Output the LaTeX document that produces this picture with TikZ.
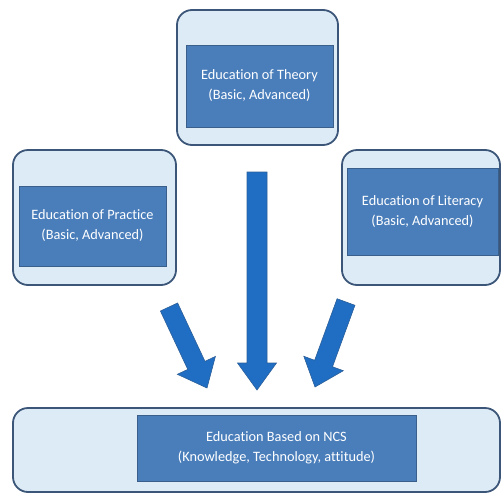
\documentclass[tikz,border=0pt]{standalone}
\usepackage{fontspec}
\setmainfont{Carlito}[Ligatures=NoCommon]
\usetikzlibrary{calc}
\definecolor{outerfill}{HTML}{DDEBF6}
\definecolor{outerdraw}{HTML}{3B5678}
\definecolor{innerfill}{HTML}{4A7EBB}
\definecolor{innerdraw}{HTML}{3A5F8B}
\definecolor{arrowfill}{HTML}{1F6EC4}
\definecolor{arrowdraw}{HTML}{2C5F98}
\tikzset{
  outerbox/.style={draw=outerdraw, fill=outerfill, line width=1.8pt, rounded corners=15pt, inner sep=0pt},
  innerbox/.style={draw=innerdraw, fill=innerfill, line width=1pt, inner sep=0pt, text=white, align=center,
     font=\fontsize{14.3}{20}\selectfont},
  blk/.style={fill=arrowfill, draw=arrowdraw, line width=0.6pt},
}
\newcommand\blkarrow[5]{% start, tip, shaft half, head half, head length
  \coordinate (#1-h) at ($(#2)!#5!(#1)$);
  \path[blk] ($(#1)!#3!90:(#2)$) -- ($(#1-h)!#3!-90:(#1)$) -- ($(#1-h)!#4!-90:(#1)$) -- (#2)
     -- ($(#1-h)!#4!90:(#1)$) -- ($(#1-h)!#3!90:(#1)$) -- ($(#1)!#3!-90:(#2)$) -- cycle;
}
\begin{document}
\begin{tikzpicture}[x=1pt,y=-1pt]
\useasboundingbox (0,0) rectangle (501,493);
% outer boxes
\node[outerbox, minimum width=161pt, minimum height=135pt] (tout) at (257.5,77.5) {};
\node[outerbox, minimum width=163pt, minimum height=135pt] (lout) at (94.5,217.5) {};
\node[outerbox, minimum width=158pt, minimum height=135pt] (rout) at (421,217.5) {};
\node[outerbox, minimum width=487pt, minimum height=84pt] (bout) at (256.5,450) {};
% inner boxes
\node[innerbox, minimum width=147pt, minimum height=82pt] (tin) at (259.5,86) {Education of Theory\\(Basic, Advanced)};
\node[innerbox, minimum width=147pt, minimum height=80pt] (lin) at (92.5,226) {Education of Practice\\(Basic, Advanced)};
\node[innerbox, minimum width=151pt, minimum height=87pt] (rin) at (422.5,211.5) {Education of Literacy\\(Basic, Advanced)};
\node[innerbox, minimum width=279pt, minimum height=66pt] (bin) at (276.5,448) {Education Based on NCS\\(Knowledge, Technology, attitude)};
% arrows
\coordinate (ca) at (257,172); \coordinate (cb) at (257,390);
\coordinate (la) at (169,307); \coordinate (lb) at (207,388);
\coordinate (ra) at (346,302); \coordinate (rb) at (315,387);
\blkarrow{ca}{cb}{10pt}{19.5pt}{27pt}
\blkarrow{la}{lb}{9.5pt}{21pt}{25pt}
\blkarrow{ra}{rb}{9.5pt}{21pt}{25pt}
\end{tikzpicture}
\end{document}
